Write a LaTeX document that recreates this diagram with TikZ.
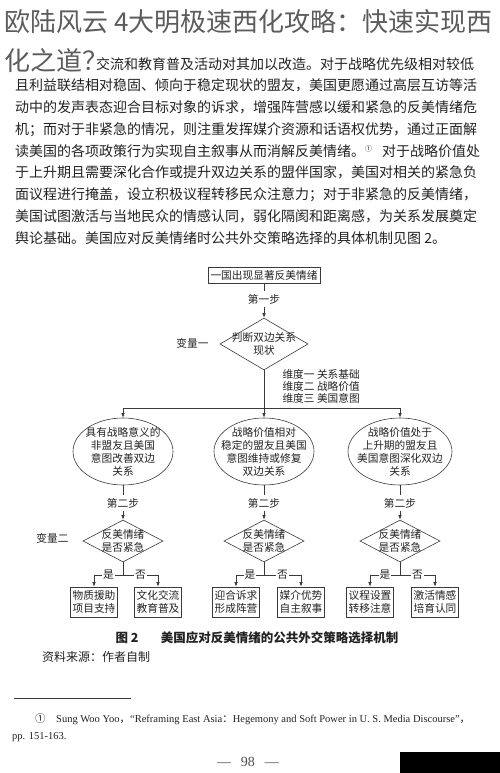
\documentclass[tikz,border=0pt]{standalone}
\usepackage{fontspec}
\setmainfont{Liberation Serif}
\newfontfamily\cjk{Noto Sans CJK SC}
\usetikzlibrary{arrows.meta,positioning,shapes.geometric}
\XeTeXlinebreaklocale "zh"
\XeTeXlinebreakskip=0pt plus 2pt minus 1pt
\definecolor{inkCol}{HTML}{222222}
\definecolor{lineCol}{HTML}{3A3A3A}
\definecolor{titleCol}{HTML}{5C5C5C}
\tikzset{
  bodyln/.style={anchor=west, inner sep=0pt, text=inkCol, font=\cjk\fontsize{14}{16}\selectfont},
  headln/.style={anchor=west, inner sep=0pt, text=titleCol, font=\cjk\fontsize{26}{30}\selectfont},
  ln/.style={draw=lineCol, line width=0.6pt},
  arr/.style={ln, -{Latex[length=4.5pt,width=3.5pt]}},
  ftxt/.style={text=inkCol, align=center, font=\cjk\fontsize{10.7}{13}\selectfont},
  startbox/.style={ftxt, draw=lineCol, line width=0.6pt, minimum width=112pt,
        minimum height=16pt, inner sep=0pt},
  judge/.style n args={2}{diamond, draw=lineCol, line width=0.6pt, inner sep=0pt,
        minimum width=#1, minimum height=#2},
  cell/.style n args={2}{ellipse, draw=lineCol, line width=0.6pt, inner sep=0pt,
        minimum width=#1, minimum height=#2},
  leaf/.style={ftxt, draw=lineCol, line width=0.6pt, minimum width=47pt,
        minimum height=30pt, inner sep=1pt},
  yn/.style={ftxt, fill=white, inner sep=1pt},
  note/.style={anchor=west, inner sep=0pt, text=inkCol},
}
\begin{document}
\begin{tikzpicture}[x=1pt,y=-1pt]
  \useasboundingbox (0,0) rectangle (500,773);
  % body text
  \node[bodyln] (b1) at (96,64) {\hbox to 384pt{交流和教育普及活动对其加以改造。对于战略优先级相对较低}};
  \node[bodyln] (b2) at (15,85.75) {\hbox to 465pt{且利益联结相对稳固、倾向于稳定现状的盟友，美国更愿通过高层互访等活}};
  \node[bodyln] (b3) at (15,107.5) {\hbox to 465pt{动中的发声表态迎合目标对象的诉求，增强阵营感以缓和紧急的反美情绪危}};
  \node[bodyln] (b4) at (15,129.25) {\hbox to 465pt{机；而对于非紧急的情况，则注重发挥媒介资源和话语权优势，通过正面解}};
  \node[bodyln] (b5) at (15,151) {\hbox to 465pt{读美国的各项政策行为实现自主叙事从而消解反美情绪。\raisebox{5pt}{\fontsize{7}{7}\selectfont ①}\ 对于战略价值处}};
  \node[bodyln] (b6) at (15,172.75) {\hbox to 465pt{于上升期且需要深化合作或提升双边关系的盟伴国家，美国对相关的紧急负}};
  \node[bodyln] (b7) at (15,194.5) {\hbox to 465pt{面议程进行掩盖，设立积极议程转移民众注意力；对于非紧急的反美情绪，}};
  \node[bodyln] (b8) at (15,216.25) {\hbox to 465pt{美国试图激活与当地民众的情感认同，弱化隔阂和距离感，为关系发展奠定}};
  \node[bodyln] (b9) at (15,238) {舆论基础。美国应对反美情绪时公共外交策略选择的具体机制见图 2。};
  % heading over the page
  \node[headln] (h1) at (4,22) {欧陆风云 4大明极速西化攻略：快速实现西};
  \node[headln] (h2) at (4,61) {化之道？};

  % step one
  \node[startbox] (src) at (264,275) {一国出现显著反美情绪};
  \node[ftxt] (step1) at (264,299) {第一步};
  \node[judge={88pt}{52pt}, label={[ftxt]center:{判断双边关系\\现状}}] (dia1) at (264,344) {};
  \node[ftxt, anchor=east] (var1) at (212,343) {变量一};
  \node[ftxt, align=left, anchor=west, font=\cjk\fontsize{10.7}{12}\selectfont] (dims) at (279,386)
    {维度一 关系基础\\维度二 战略价值\\维度三 美国意图};
  \coordinate (split) at (264,408);
  \node[cell={100pt}{67pt}, label={[ftxt]center:{具有战略意义的\\非盟友且美国\\意图改善双边\\关系}}] (ell1) at (123,451.5) {};
  \node[cell={100pt}{67pt}, label={[ftxt]center:{战略价值相对\\稳定的盟友且美国\\意图维持或修复\\双边关系}}] (ell2) at (264,451.5) {};
  \node[cell={104pt}{67pt}, label={[ftxt]center:{战略价值处于\\上升期的盟友且\\美国意图深化双边\\关系}}] (ell3) at (400,451.5) {};
  \draw[ln] (src) -- (step1);
  \draw[arr] (step1) -- (dia1);
  \draw[ln] (dia1.south) -- (split);
  \draw[arr] (split) -- (ell2);
  \draw[arr] (split) -| (ell1.north);
  \draw[arr] (split) -| (ell3.north);

  % step two
  \node[ftxt, anchor=east] (var2) at (72,538) {变量二};
  \node[ftxt] (s2a) at (123,503) {第二步};
  \node[ftxt] (s2b) at (264,503) {第二步};
  \node[ftxt] (s2c) at (400,503) {第二步};
  \node[judge={80pt}{42pt}, label={[ftxt]center:{反美情绪\\是否紧急}}] (da) at (123,541) {};
  \node[judge={80pt}{42pt}, label={[ftxt]center:{反美情绪\\是否紧急}}] (db) at (264,541) {};
  \node[judge={80pt}{42pt}, label={[ftxt]center:{反美情绪\\是否紧急}}] (dc) at (400,541) {};
  \coordinate (ba) at (123,575);
  \coordinate (bb) at (264,575);
  \coordinate (bc) at (400,575);
  \node[leaf] (ra1) at (94,602) {物质援助\\项目支持};
  \node[leaf] (ra2) at (158,602) {文化交流\\教育普及};
  \node[leaf] (rb1) at (236,602) {迎合诉求\\形成阵营};
  \node[leaf] (rb2) at (301,602) {媒介优势\\自主叙事};
  \node[leaf] (rc1) at (370,602) {议程设置\\转移注意};
  \node[leaf] (rc2) at (435,602) {激活情感\\培育认同};
  \draw[ln] (ell1) -- (s2a);
  \draw[ln] (ell2) -- (s2b);
  \draw[ln] (ell3) -- (s2c);
  \draw[arr] (s2a) -- (da);
  \draw[arr] (s2b) -- (db);
  \draw[arr] (s2c) -- (dc);
  \draw[ln] (da.south) -- (ba);
  \draw[ln] (db.south) -- (bb);
  \draw[ln] (dc.south) -- (bc);
  \draw[arr] (ba) -| node[yn, pos=0.25]{是} (ra1.north);
  \draw[arr] (ba) -| node[yn, pos=0.25]{否} (ra2.north);
  \draw[arr] (bb) -| node[yn, pos=0.25]{是} (rb1.north);
  \draw[arr] (bb) -| node[yn, pos=0.25]{否} (rb2.north);
  \draw[arr] (bc) -| node[yn, pos=0.25]{是} (rc1.north);
  \draw[arr] (bc) -| node[yn, pos=0.25]{否} (rc2.north);

  % caption, source, footnote
  \node[text=inkCol, font=\cjk\bfseries\fontsize{12.5}{14}\selectfont] (cap) at (257,638)
    {图 2\hspace{1.8em}美国应对反美情绪的公共外交策略选择机制};
  \node[note, font=\cjk\fontsize{12}{14}\selectfont] (srcnote) at (42,657) {资料来源：作者自制};
  \draw[line width=0.8pt, draw=lineCol] (14,698) -- (131,698);
  \node[note, font=\fontsize{10.5}{12}\selectfont] (fn1) at (35,719)
    {{\cjk ①}\hspace{1em}Sung Woo Yoo{\cjk ，}“Reframing East Asia{\cjk ：}Hegemony and Soft Power in U. S. Media Discourse”{\cjk ，}};
  \node[note, font=\fontsize{10.5}{12}\selectfont] (fn2) at (12,737) {pp. 151-163.};
  \node[text=inkCol!80, font=\fontsize{14}{16}\selectfont] (page) at (248,762) {—\hspace{0.7em}98\hspace{0.7em}—};
  \fill[black] (400,752) rectangle (500,773);
\end{tikzpicture}
\end{document}
